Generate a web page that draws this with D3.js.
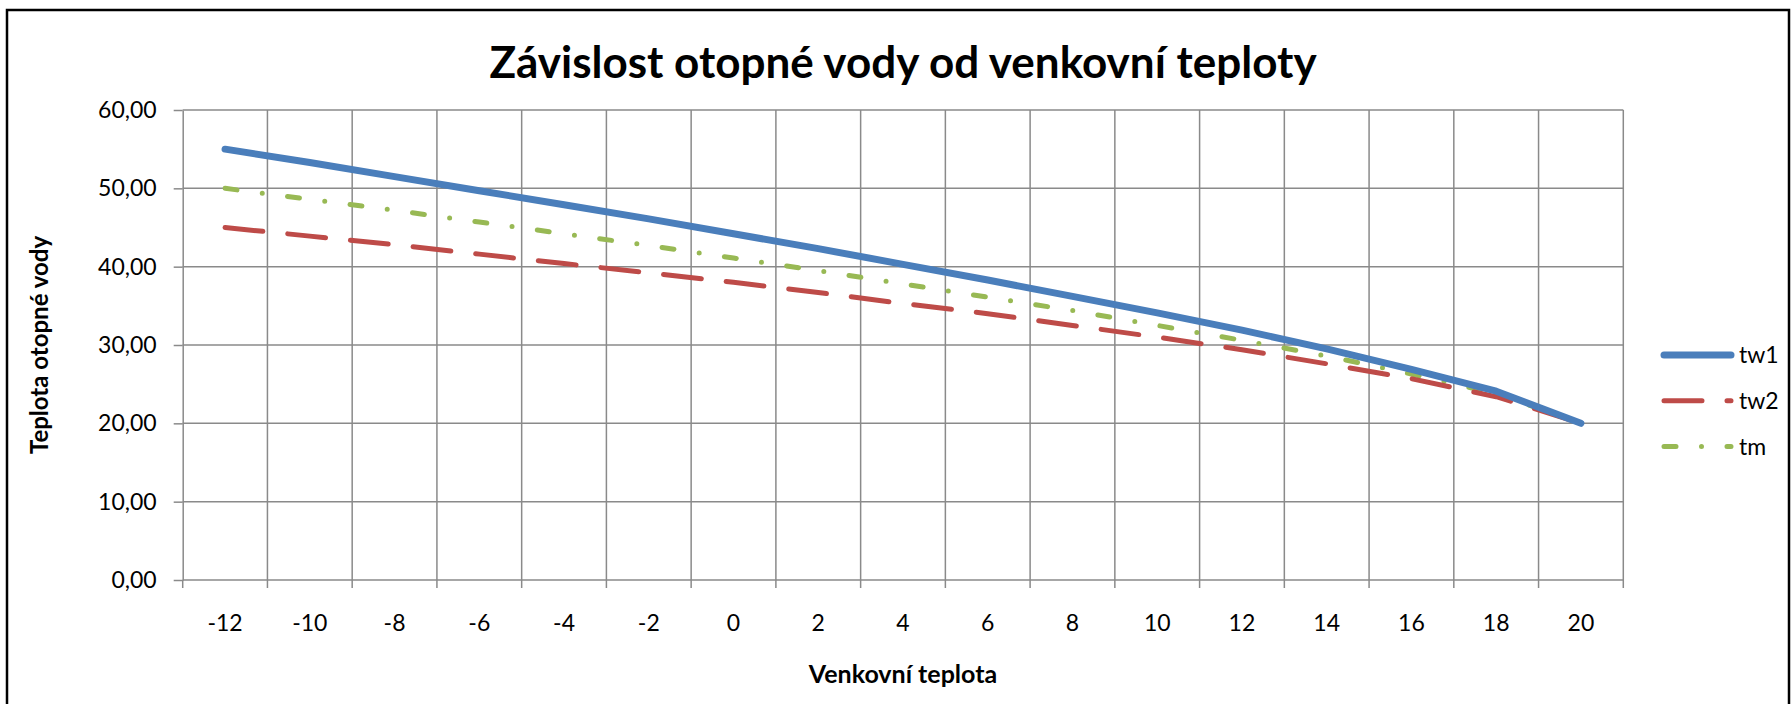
<!DOCTYPE html>
<html>
<head>
<meta charset="utf-8">
<script src="https://cdn.jsdelivr.net/npm/d3@7"></script>
<style>
  html, body { margin: 0; padding: 0; background: #fff; }
  svg { display: block; font-family: Lato, "Open Sans", sans-serif; }
  .label { font-size: 23px; fill: #000; }
</style>
</head>
<body>
<div id="chart"></div>
<script>
const categories = [-12, -10, -8, -6, -4, -2, 0, 2, 4, 6, 8, 10, 12, 14, 16, 18, 20],
tw1 = [55.0, 53.3, 51.5, 49.7, 47.9, 46.1, 44.2, 42.3, 40.3, 38.3, 36.2, 34.1, 31.9, 29.5, 26.9, 24.1, 20.0],
tw2 = [45.0, 43.9, 42.8, 41.6, 40.4, 39.2, 38.0, 36.7, 35.3, 34.0, 32.5, 31.0, 29.4, 27.6, 25.7, 23.4, 20.0],
tm = [50.0, 48.6, 47.2, 45.7, 44.2, 42.7, 41.1, 39.5, 37.8, 36.1, 34.4, 32.5, 30.6, 28.6, 26.3, 23.8, 20.0],
yTicks = [0, 10, 20, 30, 40, 50, 60],
seriesNames = ['tw1', 'tw2', 'tm'];

const width = 1791,
height = 704,
plotLeft = 182.7,
plotRight = 1623.3,
plotTop = 110,
plotBottom = 580,
gridColor = '#8a8a8a';

const series = [
   { name: seriesNames[0], values: tw1, color: '#4a7ebb', width: 7, dash: null },
   { name: seriesNames[1], values: tw2, color: '#be4b48', width: 5, dash: '38,25' },
   { name: seriesNames[2], values: tm, color: '#98b954', width: 5, dash: '12,25.5,0,25.5' }
];

const x = d3.scaleBand().domain(categories).range([plotLeft, plotRight]).padding(0),
y = d3.scaleLinear().domain([0, 60]).range([plotBottom, plotTop]),
xCenter = c => x(c) + x.bandwidth() / 2;

const svg = d3.select('#chart')
   .append('svg')
   .attr('width', width)
   .attr('height', height);

svg.append('rect')
   .attr('x', 7).attr('y', 10)
   .attr('width', 1782).attr('height', 800)
   .attr('fill', '#fff')
   .attr('stroke', '#000')
   .attr('stroke-width', 2.5);

// gridlines
svg.append('g')
   .selectAll('line')
   .data(yTicks.filter(d => d > 0))
   .join('line')
   .attr('x1', plotLeft).attr('x2', plotRight)
   .attr('y1', d => y(d)).attr('y2', d => y(d))
   .attr('stroke', gridColor).attr('stroke-width', 1.5);

const boundaries = categories.map(c => x(c)).concat([plotRight]);

svg.append('g')
   .selectAll('line')
   .data(boundaries.slice(1))
   .join('line')
   .attr('x1', d => d).attr('x2', d => d)
   .attr('y1', plotTop).attr('y2', plotBottom)
   .attr('stroke', gridColor).attr('stroke-width', 1.5);

// x axis line + ticks between categories
svg.append('line')
   .attr('x1', plotLeft).attr('x2', plotRight)
   .attr('y1', plotBottom).attr('y2', plotBottom)
   .attr('stroke', gridColor).attr('stroke-width', 1.5);

svg.append('g')
   .selectAll('line')
   .data(boundaries)
   .join('line')
   .attr('x1', d => d).attr('x2', d => d)
   .attr('y1', plotBottom).attr('y2', plotBottom + 8)
   .attr('stroke', gridColor).attr('stroke-width', 1.5);

// y axis
const yAxis = svg.append('g')
   .attr('transform', `translate(${plotLeft},0)`)
   .call(d3.axisLeft(y)
      .tickValues(yTicks)
      .tickSize(9)
      .tickSizeOuter(0)
      .tickPadding(17)
      .tickFormat(d => d.toFixed(2).replace('.', ',')));

yAxis.select('.domain').attr('stroke', gridColor).attr('stroke-width', 1.5);
yAxis.selectAll('.tick line').attr('stroke', gridColor).attr('stroke-width', 1.5);
yAxis.selectAll('.tick text').attr('class', 'label');
yAxis.attr('font-family', null).attr('font-size', null);

// x axis labels
const xAxis = svg.append('g')
   .attr('transform', `translate(0,${plotBottom})`)
   .call(d3.axisBottom(x).tickSize(0).tickSizeOuter(0));

xAxis.select('.domain').remove();
xAxis.attr('font-family', null).attr('font-size', null);
xAxis.selectAll('.tick text')
   .attr('class', 'label')
   .attr('y', 51)
   .attr('dy', 0);

// lines
const line = d3.line()
   .x((d, i) => xCenter(categories[i]))
   .y(d => y(d));

svg.append('g')
   .selectAll('path')
   .data(series.slice().reverse())
   .join('path')
   .attr('d', d => line(d.values))
   .attr('fill', 'none')
   .attr('stroke', d => d.color)
   .attr('stroke-width', d => d.width)
   .attr('stroke-dasharray', d => d.dash)
   .attr('stroke-linecap', 'round')
   .attr('stroke-linejoin', 'round');

// titles
svg.append('text')
   .attr('x', (plotLeft + plotRight) / 2)
   .attr('y', 78)
   .attr('text-anchor', 'middle')
   .attr('font-size', 44)
   .attr('font-weight', 'bold')
   .text('Závislost otopné vody od venkovní teploty');

svg.append('text')
   .attr('x', (plotLeft + plotRight) / 2)
   .attr('y', 683)
   .attr('text-anchor', 'middle')
   .attr('font-size', 25)
   .attr('font-weight', 'bold')
   .text('Venkovní teplota');

svg.append('text')
   .attr('transform', `translate(40,${(plotTop + plotBottom) / 2}) rotate(-90)`)
   .attr('text-anchor', 'middle')
   .attr('dy', '0.35em')
   .attr('font-size', 24)
   .attr('font-weight', 'bold')
   .text('Teplota otopné vody');

// legend
const legend = svg.append('g')
   .selectAll('g')
   .data(series)
   .join('g')
   .attr('transform', (d, i) => `translate(0,${355 + i * 45.8})`);

legend.append('line')
   .attr('x1', 1664).attr('x2', 1731)
   .attr('stroke', d => d.color)
   .attr('stroke-width', d => d.width)
   .attr('stroke-dasharray', d => d.dash)
   .attr('stroke-linecap', 'round');

legend.append('text')
   .attr('class', 'label')
   .attr('x', 1739)
   .attr('dy', '0.35em')
   .text(d => d.name);
</script>
</body>
</html>
